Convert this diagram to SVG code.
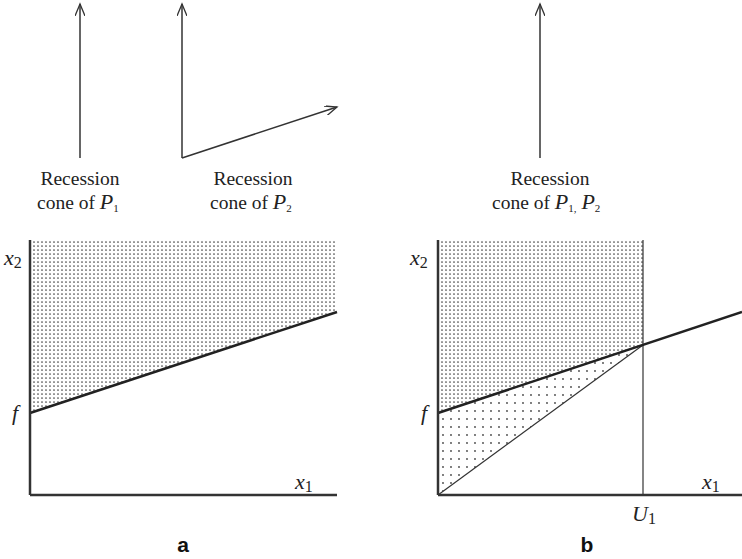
<svg xmlns="http://www.w3.org/2000/svg" width="742" height="559" viewBox="0 0 742 559">
<style>
.ax{stroke:#333;stroke-width:2.5;fill:none}
.thin{stroke:#333;stroke-width:1.2;fill:none}
.thick{stroke:#222;stroke-width:2.5;fill:none}
.vec{stroke:#333;stroke-width:1.5;fill:none}
.t{font-family:"Liberation Serif","DejaVu Serif",serif;font-size:19.5px;fill:#222}
.m{font-family:"Liberation Serif","DejaVu Serif",serif;font-style:italic;font-size:22px;fill:#222}
.s{font-family:"Liberation Serif","DejaVu Serif",serif;font-style:normal;font-size:11px;fill:#222}
.sub{font-family:"Liberation Serif","DejaVu Serif",serif;font-style:normal;font-size:16px;fill:#222}
.lab{font-family:"Liberation Sans",Arial,sans-serif;font-weight:bold;font-size:21px;fill:#111}
</style>
<defs>
<marker id="ah" markerWidth="14" markerHeight="10" refX="12" refY="5" orient="auto" markerUnits="userSpaceOnUse">
<path d="M0,0 L12,5 L0,10" fill="none" stroke="#333" stroke-width="1.3"/>
</marker>
<pattern id="dense" width="4" height="4" patternUnits="userSpaceOnUse">
<circle cx="2" cy="2" r="0.85" fill="#444"/>
</pattern>
<pattern id="sparse" width="8" height="8" patternUnits="userSpaceOnUse">
<circle cx="3" cy="3" r="0.9" fill="#444"/>
</pattern>
</defs>

<g id="cone-a1">
<line class="vec" x1="80" y1="158" x2="80" y2="4" marker-end="url(#ah)"/>
<text class="t" x="80" y="185" text-anchor="middle">Recession</text>
<text class="t" x="37" y="209">cone of <tspan class="m" font-size="21">P</tspan><tspan class="s" dy="3">1</tspan></text>
</g>
<g id="cone-a2">
<line class="vec" x1="182" y1="158" x2="182" y2="4" marker-end="url(#ah)"/>
<line class="vec" x1="182" y1="158" x2="337" y2="107" marker-end="url(#ah)"/>
<text class="t" x="253" y="185" text-anchor="middle">Recession</text>
<text class="t" x="210" y="209">cone of <tspan class="m" font-size="21">P</tspan><tspan class="s" dy="3">2</tspan></text>
</g>
<g id="cone-b">
<line class="vec" x1="540" y1="158" x2="540" y2="4" marker-end="url(#ah)"/>
<text class="t" x="550" y="185" text-anchor="middle">Recession</text>
<text class="t" x="492" y="209">cone of <tspan class="m" font-size="21">P</tspan><tspan class="s" dy="3">1,</tspan><tspan dy="-3"> </tspan><tspan class="m" font-size="21">P</tspan><tspan class="s" dy="3">2</tspan></text>
</g>

<g id="panel-a">
<polygon points="30,240 337,240 337,312 30,413" fill="url(#dense)"/>
<line class="thick" x1="30" y1="413" x2="337" y2="312"/>
<line class="ax" x1="30" y1="240" x2="30" y2="495"/>
<line class="ax" x1="30" y1="495" x2="337" y2="495" stroke-width="2"/>
<text class="m" x="4" y="265">x<tspan class="sub" dy="3">2</tspan></text>
<text class="m" x="12" y="420">f</text>
<text class="m" x="295" y="489">x<tspan class="sub" dy="3">1</tspan></text>
<text class="lab" x="183" y="552" text-anchor="middle">a</text>
</g>

<g id="panel-b">
<polygon points="438,240 643,240 643,345 438,413" fill="url(#dense)"/>
<polygon points="438,413 643,345 438,495" fill="url(#sparse)"/>
<line class="thin" x1="438" y1="495" x2="643" y2="345"/>
<line class="thin" x1="643" y1="240" x2="643" y2="495" stroke-width="1.5"/>
<line class="thick" x1="438" y1="413" x2="742" y2="312"/>
<line class="ax" x1="438" y1="240" x2="438" y2="495"/>
<line class="ax" x1="438" y1="495" x2="742" y2="495" stroke-width="2"/>
<text class="m" x="410" y="265">x<tspan class="sub" dy="3">2</tspan></text>
<text class="m" x="421" y="420">f</text>
<text class="m" x="702" y="489">x<tspan class="sub" dy="3">1</tspan></text>
<text class="m" x="632" y="521">U<tspan class="sub" dy="3">1</tspan></text>
<text class="lab" x="587" y="552" text-anchor="middle">b</text>
</g>
</svg>
